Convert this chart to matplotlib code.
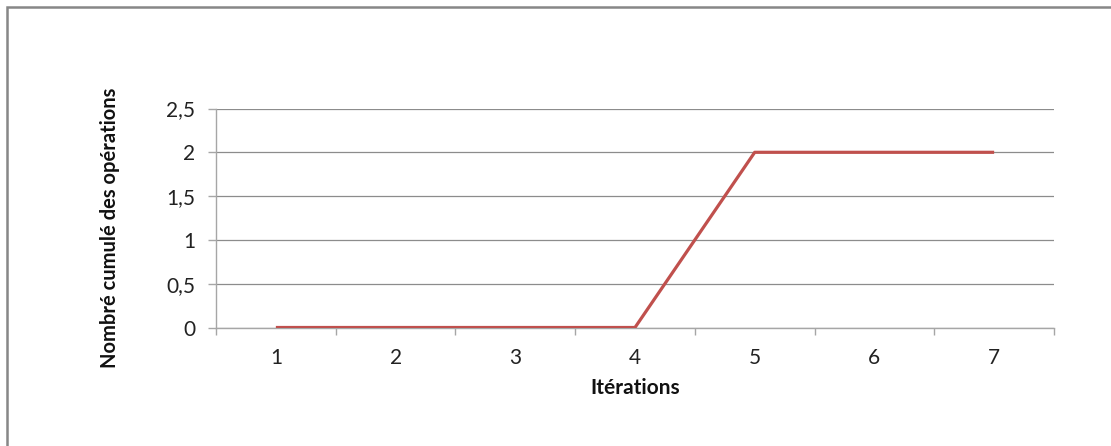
import matplotlib
matplotlib.use("Agg")
import matplotlib.pyplot as plt
from matplotlib.patches import Rectangle

# data
iterations = ["1", "2", "3", "4", "5", "6", "7"]
operations = [0, 0, 0, 0, 2, 2, 2]
y_ticks = [0, 0.5, 1, 1.5, 2, 2.5]

W, H = 1111, 446
plt.rcParams['font.family'] = ['Lato', 'DejaVu Sans']

fig = plt.figure(figsize=(W / 100, H / 100), dpi=100)

# outer chart border (cut off on the right and bottom)
fig.patches.append(Rectangle((7 / W, -0.1), 1.2, (H - 7) / H + 0.1,
                             transform=fig.transFigure, fill=False,
                             edgecolor='#878787', linewidth=1.8))

left, right, top, bottom = 216, 1054, 108.5, 327.5
ax = fig.add_axes([left / W, (H - bottom) / H, (right - left) / W, (bottom - top) / H])

x = list(range(len(iterations)))
ax.plot(x, operations, color='#C0504D', linewidth=2.3, solid_capstyle='butt', zorder=3)

ax.set_xlim(-0.5, len(iterations) - 0.5)
ax.set_ylim(0, 2.5)

ax.set_xticks(x)
ax.set_xticklabels(iterations)
ax.set_xticks([i - 0.5 for i in range(len(iterations) + 1)], minor=True)
ax.tick_params(axis='x', which='major', length=0, pad=14.5, labelsize=15, labelcolor='#222222')
ax.tick_params(axis='x', which='minor', length=5, width=1, color='#A6A6A6', direction='out')

ax.set_yticks(y_ticks)
ax.set_yticklabels([("%g" % v).replace('.', ',') for v in y_ticks])
ax.tick_params(axis='y', length=6, width=1, color='#A6A6A6', pad=9, labelsize=15, labelcolor='#222222')

ax.grid(axis='y', color='#8C8C8C', linewidth=0.9)
ax.set_axisbelow(True)

for s in ['top', 'right']:
    ax.spines[s].set_visible(False)
for s in ['left', 'bottom']:
    ax.spines[s].set_color('#A6A6A6')
    ax.spines[s].set_linewidth(1)
    ax.spines[s].set_zorder(2)

ax.set_xlabel("Itérations", fontsize=15, fontweight='bold', color='#111111')
ax.set_ylabel("Nombré cumulé des opérations", fontsize=14.5, fontweight='bold', color='#111111')
ax.xaxis.set_label_coords(0.5, (bottom - 388) / (bottom - top))
ax.yaxis.set_label_coords((110 - left) / (right - left), (bottom - 228) / (bottom - top))
ax.xaxis.label.set_va('center')
ax.yaxis.label.set_va('center')

fig.savefig("out.png", dpi=100)
